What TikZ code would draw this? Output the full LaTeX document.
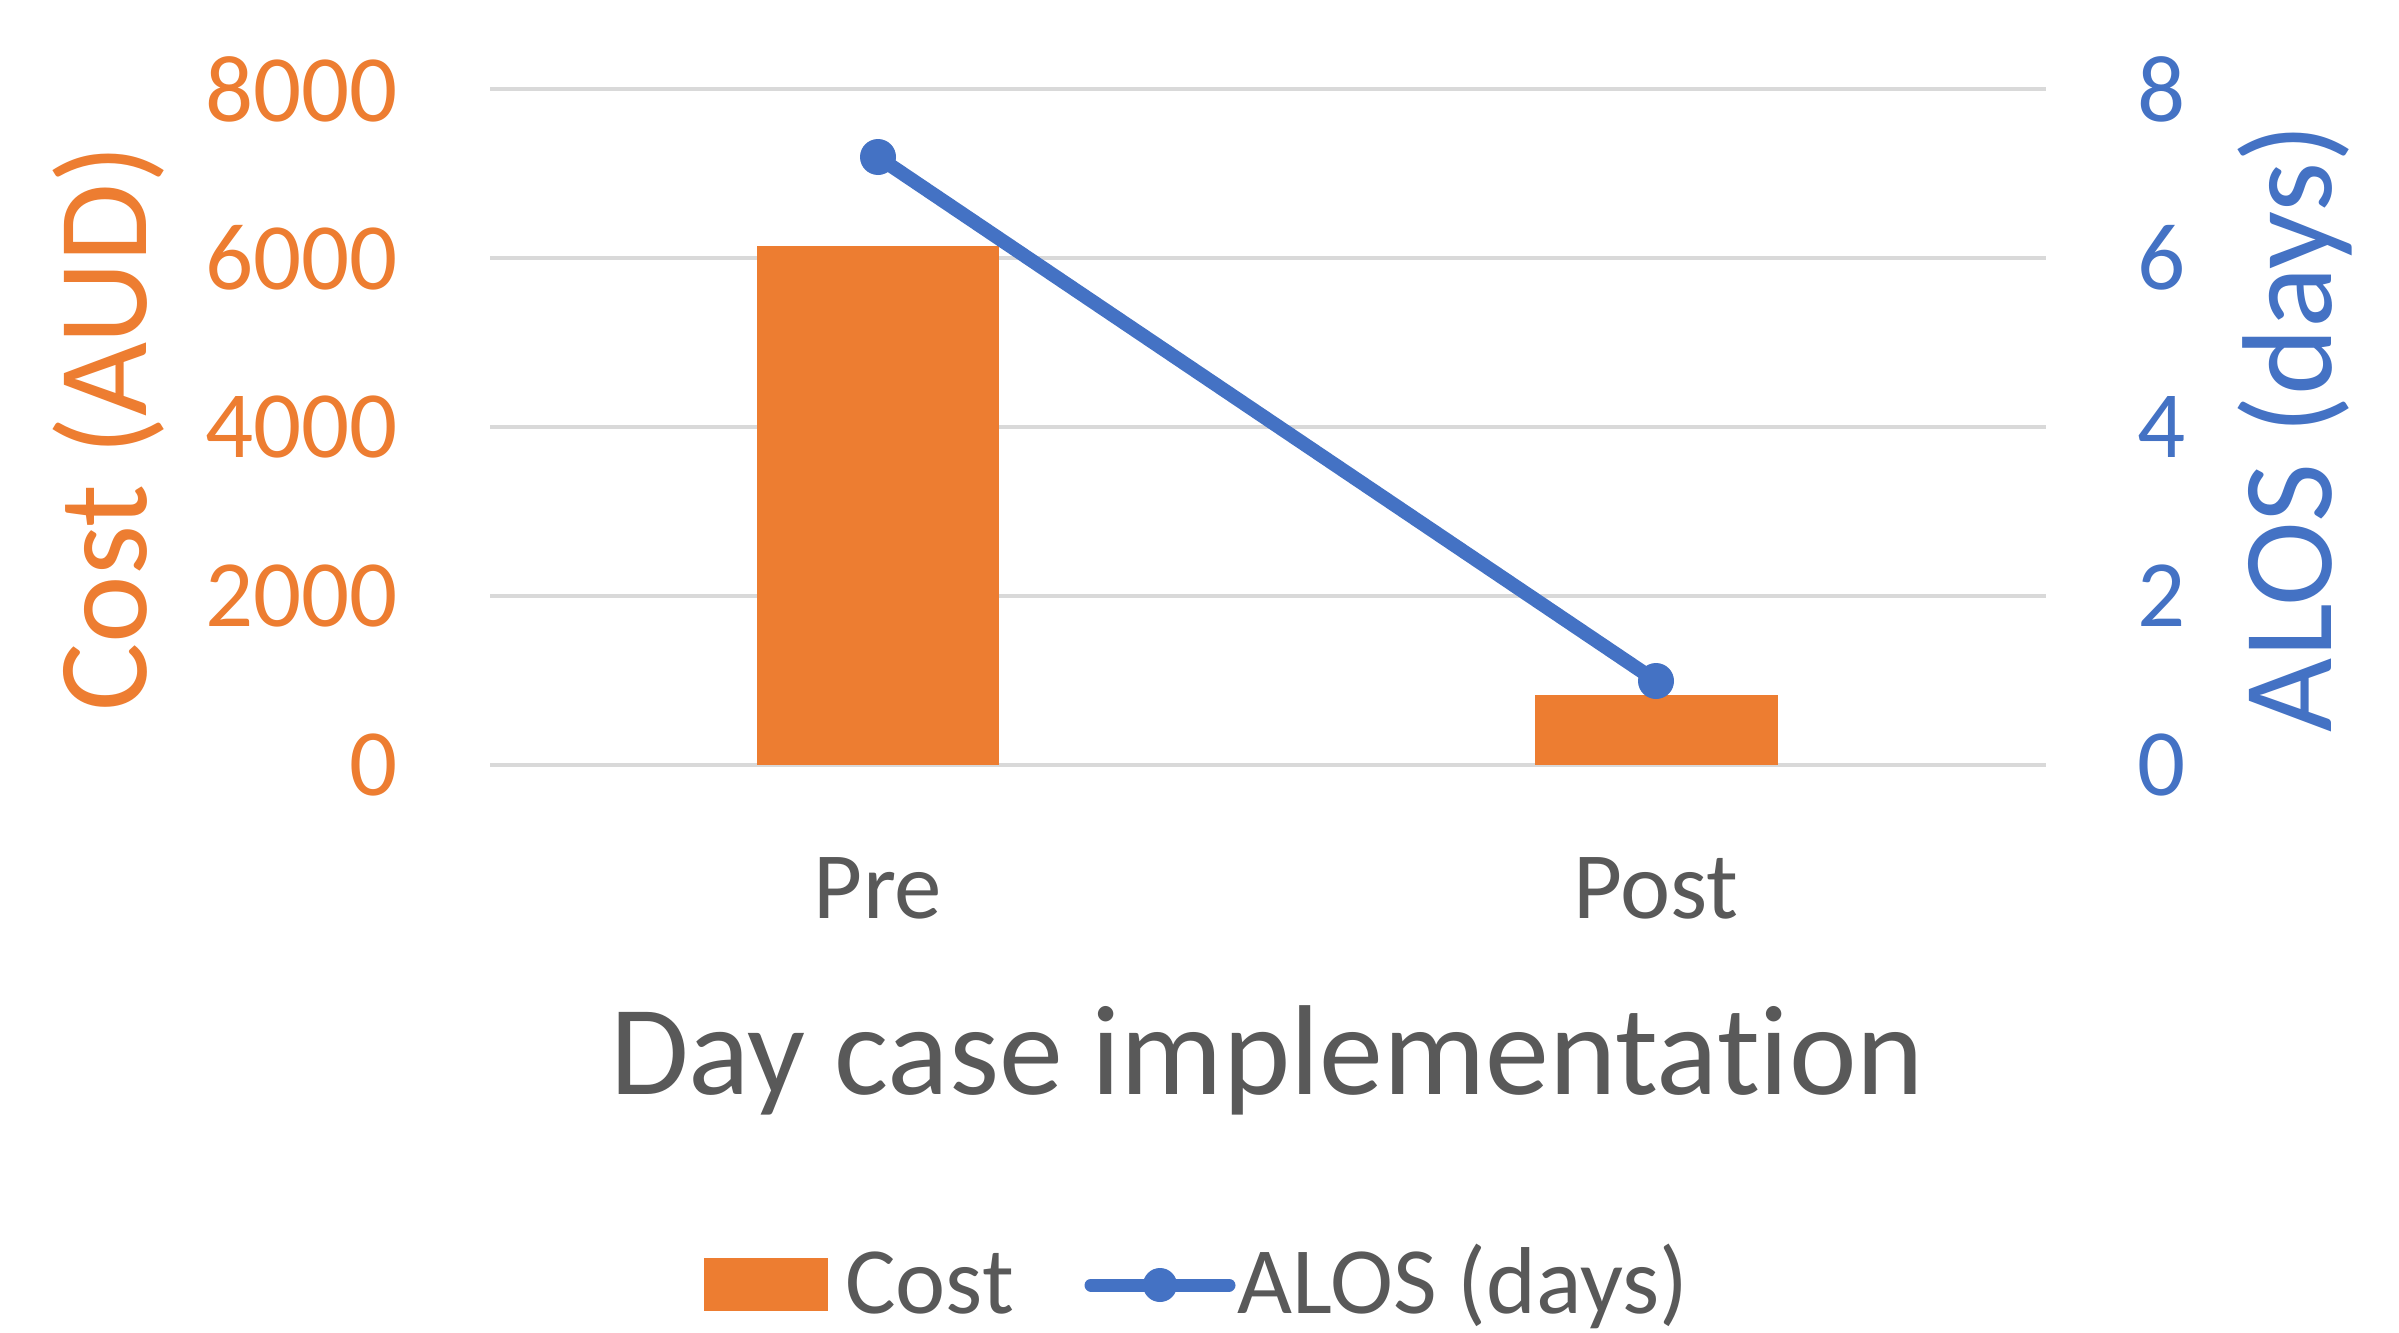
\documentclass[tikz,border=0pt]{standalone}
\usepackage{fontspec}
\setmainfont{Carlito}[Ligatures=NoCommon]
\definecolor{corange}{HTML}{ED7D31}
\definecolor{cblue}{HTML}{4472C4}
\definecolor{ctext}{HTML}{595959}
\definecolor{cgrid}{HTML}{D9D9D9}
\begin{document}
\begin{tikzpicture}[x=1pt,y=-1pt,
  gridline/.style={draw=cgrid,line width=3.5pt},
  bar/.style={fill=corange,draw=none},
  ticko/.style={text=corange,font=\fontsize{95}{110}\selectfont,inner sep=0pt},
  tickb/.style={text=cblue,font=\fontsize{95}{110}\selectfont,inner sep=0pt},
  cattext/.style={text=ctext,font=\fontsize{95}{110}\selectfont,inner sep=0pt},
  bigtitle/.style={font=\fontsize{128}{150}\selectfont,inner sep=0pt},
  alosline/.style={draw=cblue,line width=14pt},
  dot/.style={circle,fill=cblue,draw=none,minimum size=36pt,inner sep=0pt}]
\useasboundingbox (0,0) rectangle (2399,1333);
\fill[white] (0,0) rectangle (2399,1333);
% gridlines
\foreach \v in {0,...,4}{
  \draw[gridline] (490,765-\v*169) -- (2046,765-\v*169);
}
% left ticks
\node[ticko,anchor=east] (l0) at (398,765) {0};
\node[ticko,anchor=east] (l1) at (398,596) {2000};
\node[ticko,anchor=east] (l2) at (398,427) {4000};
\node[ticko,anchor=east] (l3) at (398,258) {6000};
\node[ticko,anchor=east] (l4) at (398,89) {8000};
% right ticks
\node[tickb,anchor=west] (r0) at (2137,765) {0};
\node[tickb,anchor=west] (r1) at (2137,596) {2};
\node[tickb,anchor=west] (r2) at (2137,427) {4};
\node[tickb,anchor=west] (r3) at (2137,258) {6};
\node[tickb,anchor=west] (r4) at (2137,89) {8};
% axis titles
\node[bigtitle,text=corange,rotate=90,anchor=base] (ytl) at (146,428) {Cost (AUD)};
\node[bigtitle,text=cblue,rotate=90,anchor=base] (ytr) at (2331,428) {ALOS (days)};
% bars
\node[bar,minimum width=242pt,minimum height=519pt,anchor=south,inner sep=0pt] (barpre) at (878,765) {};
\node[bar,minimum width=243pt,minimum height=70pt,anchor=south,inner sep=0pt] (barpost) at (1656,765) {};
% ALOS line
\coordinate (ppre) at (878,157);
\coordinate (ppost) at (1656,681);
\draw[alosline] (ppre) -- (ppost);
\node[dot] (mpre) at (ppre) {};
\node[dot] (mpost) at (ppost) {};
% category labels
\node[cattext,anchor=base] (cpre) at (878,918) {Pre};
\node[cattext,anchor=base] (cpost) at (1656,918) {Post};
\node[bigtitle,text=ctext,anchor=base] (xt) at (1267,1094) {Day case implementation};
% legend
\node[bar,minimum width=124pt,minimum height=53pt,inner sep=0pt,anchor=north west] (legcost) at (704,1258) {};
\node[cattext,anchor=base west] (legcosttext) at (845,1313) {Cost};
\coordinate (la) at (1091,1285);
\coordinate (lb) at (1229,1285);
\draw[alosline,line width=13pt,line cap=round] (la) -- (lb);
\node[dot,minimum size=34pt] (legdot) at (1160,1285) {};
\node[cattext,anchor=base west] (legalostext) at (1237,1313) {ALOS (days)};
\end{tikzpicture}
\end{document}
